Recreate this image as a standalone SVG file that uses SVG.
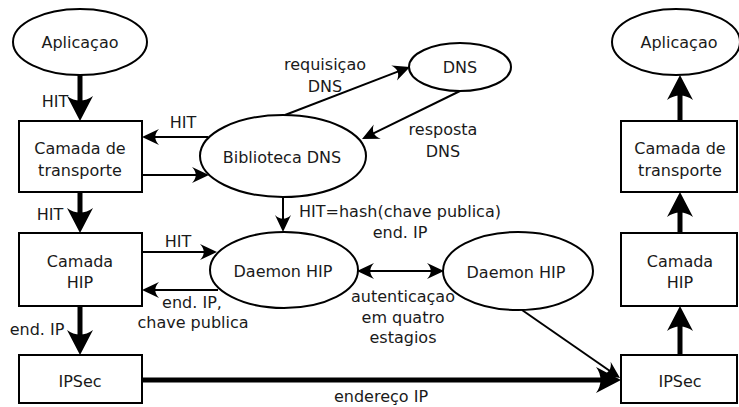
<svg xmlns="http://www.w3.org/2000/svg" width="739" height="407" viewBox="0 0 739 407">
  <defs>
    <style>
      .node { fill: #ffffff; stroke: #000000; stroke-width: 2; }
      .lbl { font-family: "DejaVu Sans", "Liberation Sans", sans-serif; font-size: 16px; fill: #1a1a1a; text-anchor: middle; }
      .thick { stroke: #000000; stroke-width: 5; fill: none; marker-end: url(#headL); }
      .thin { stroke: #000000; stroke-width: 2; fill: none; marker-end: url(#headS); }
      .both { marker-start: url(#headS2); }
    </style>
    <!-- large notched head for the protocol-stack links -->
    <marker id="headL" markerUnits="userSpaceOnUse" viewBox="-27 -14 28 28" markerWidth="28" markerHeight="28" refX="-18" refY="0" orient="auto" overflow="visible">
      <path d="M0,0 L-25,-13 C-19,-5 -19,5 -25,13 Z" fill="#000000"/>
    </marker>
    <!-- small notched head for the service links -->
    <marker id="headS" markerUnits="userSpaceOnUse" viewBox="-18 -9 19 18" markerWidth="19" markerHeight="18" refX="-11" refY="0" orient="auto" overflow="visible">
      <path d="M0,0 L-17,-8 C-12,-3 -12,3 -17,8 Z" fill="#000000"/>
    </marker>
    <marker id="headS2" markerUnits="userSpaceOnUse" viewBox="-18 -9 19 18" markerWidth="19" markerHeight="18" refX="-11" refY="0" orient="auto-start-reverse" overflow="visible">
      <path d="M0,0 L-17,-8 C-12,-3 -12,3 -17,8 Z" fill="#000000"/>
    </marker>
  </defs>

  <rect width="739" height="407" fill="#ffffff"/>

  <!-- connectors -->
  <g id="connectors">
    <!-- sending host stack -->
    <line class="thick" x1="80" y1="75" x2="80" y2="103"/>
    <line class="thick" x1="80" y1="192" x2="80" y2="215"/>
    <line class="thick" x1="80" y1="306" x2="80" y2="337"/>
    <line class="thick" x1="142" y1="380" x2="603" y2="380"/>
    <!-- receiving host stack -->
    <line class="thick" x1="680" y1="355" x2="680" y2="324"/>
    <line class="thick" x1="680" y1="233" x2="680" y2="210"/>
    <line class="thick" x1="680" y1="121" x2="680" y2="93"/>
    <!-- name resolution and key exchange -->
    <line class="thin" x1="285" y1="115" x2="399.7" y2="70.9"/>
    <line class="thin" x1="460" y1="91" x2="371.9" y2="134.2"/>
    <line class="thin" x1="208" y1="137" x2="153" y2="137"/>
    <line class="thin" x1="142" y1="175" x2="198" y2="175"/>
    <line class="thin" x1="283" y1="197" x2="283" y2="221"/>
    <line class="thin" x1="142" y1="252" x2="206" y2="252"/>
    <line class="thin" x1="218" y1="290" x2="153" y2="290"/>
    <line class="thin both" x1="368" y1="271" x2="433" y2="271"/>
    <line class="thin" x1="522" y1="310" x2="611" y2="371.7"/>

    <text class="lbl" x="55" y="107">HIT</text>
    <text class="lbl" x="50" y="220">HIT</text>
    <text class="lbl" x="37" y="335">end. IP</text>
    <text class="lbl" x="325" y="70">requisiçao</text>
    <text class="lbl" x="325" y="92">DNS</text>
    <text class="lbl" x="443" y="135">resposta</text>
    <text class="lbl" x="443" y="157">DNS</text>
    <text class="lbl" x="183" y="128">HIT</text>
    <text class="lbl" x="400" y="217">HIT=hash(chave publica)</text>
    <text class="lbl" x="400" y="238">end. IP</text>
    <text class="lbl" x="178" y="247">HIT</text>
    <text class="lbl" x="192" y="308">end. IP,</text>
    <text class="lbl" x="193" y="328">chave publica</text>
    <text class="lbl" x="403" y="302">autenticaçao</text>
    <text class="lbl" x="403" y="323">em quatro</text>
    <text class="lbl" x="403" y="343">estagios</text>
    <text class="lbl" x="381" y="402">endereço IP</text>
  </g>

  <!-- sending host -->
  <g id="app-left">
    <ellipse class="node" cx="80" cy="42" rx="67" ry="33"/>
    <text class="lbl" x="80" y="48">Aplicaçao</text>
  </g>
  <g id="transport-left">
    <rect class="node" x="19" y="121" width="123" height="71"/>
    <text class="lbl" x="80" y="154">Camada de</text>
    <text class="lbl" x="80" y="176">transporte</text>
  </g>
  <g id="hip-left">
    <rect class="node" x="19" y="233" width="123" height="73"/>
    <text class="lbl" x="80" y="267">Camada</text>
    <text class="lbl" x="80" y="288">HIP</text>
  </g>
  <g id="ipsec-left">
    <rect class="node" x="19" y="355" width="123" height="48"/>
    <text class="lbl" x="80" y="387">IPSec</text>
  </g>

  <!-- services -->
  <g id="dns-library">
    <ellipse class="node" cx="283" cy="156" rx="83" ry="41"/>
    <text class="lbl" x="282" y="163">Biblioteca DNS</text>
  </g>
  <g id="dns-server">
    <ellipse class="node" cx="460" cy="67" rx="51" ry="24"/>
    <text class="lbl" x="460" y="73">DNS</text>
  </g>
  <g id="daemon-left">
    <ellipse class="node" cx="284" cy="270" rx="74" ry="38"/>
    <text class="lbl" x="283" y="277">Daemon HIP</text>
  </g>
  <g id="daemon-right">
    <ellipse class="node" cx="518" cy="271" rx="75" ry="39"/>
    <text class="lbl" x="516" y="278">Daemon HIP</text>
  </g>

  <!-- receiving host -->
  <g id="app-right">
    <ellipse class="node" cx="676" cy="42" rx="64" ry="33"/>
    <text class="lbl" x="679" y="48">Aplicaçao</text>
  </g>
  <g id="transport-right">
    <rect class="node" x="621" y="121" width="116" height="71"/>
    <text class="lbl" x="680" y="154">Camada de</text>
    <text class="lbl" x="680" y="176">transporte</text>
  </g>
  <g id="hip-right">
    <rect class="node" x="621" y="233" width="116" height="73"/>
    <text class="lbl" x="680" y="267">Camada</text>
    <text class="lbl" x="680" y="288">HIP</text>
  </g>
  <g id="ipsec-right">
    <rect class="node" x="621" y="355" width="116" height="48"/>
    <text class="lbl" x="680" y="387">IPSec</text>
  </g>
</svg>
